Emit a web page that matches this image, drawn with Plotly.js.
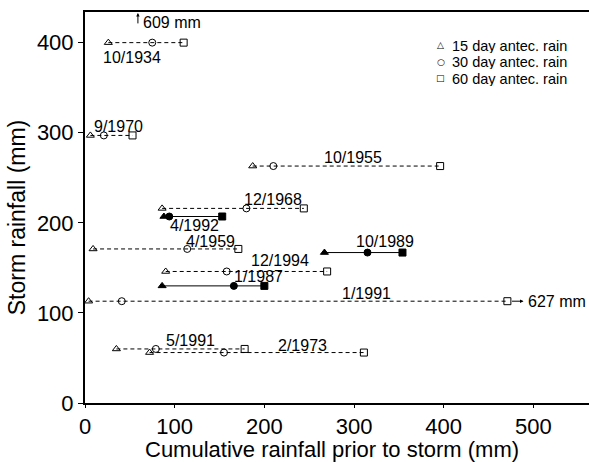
<!DOCTYPE html>
<html>
<head>
<meta charset="utf-8">
<script src="https://cdn.plot.ly/plotly-3.0.1.min.js"></script>
<style>html,body{margin:0;padding:0;background:#fff;}#chart{width:589px;height:462px;}</style>
</head>
<body>
<div id="chart"></div>
<script>
// ---- data ----
const events   = ['10/1934','9/1970','10/1955','12/1968','4/1992','4/1959','10/1989','12/1994','1/1987','1/1991','5/1991','2/1973'];
const rain15   = [26, 6, 187, 86, 88, 9, 267, 90, 86, 4, 35, 72];
const rain30   = [75, 21, 210, 180, 94, 114, 315, 158, 166, 41, 79, 155];
const rain60   = [110, 53, 396, 244, 153, 171, 354, 270, 200, 471, 178, 311];
const storm    = [400, 297, 263, 216, 207, 171, 167, 146, 130, 113, 60, 56];
const solidEvents = ['4/1992','10/1989','1/1987'];
const seriesNames = ['15 day antec. rain','30 day antec. rain','60 day antec. rain'];
const legendGlyphs = ['\u25B3','\u25CB','\u25A1'];
const offChartNotes = ['609 mm','627 mm'];
const xTitle = 'Cumulative rainfall prior to storm (mm)';
const yTitle = 'Storm rainfall (mm)';

// ---- label placement (data coords) ----
const labelPos = {
  '10/1934':[52,383], '9/1970':[37,307], '10/1955':[299,273], '12/1968':[210,226],
  '4/1992':[122,197], '4/1959':[140,179], '10/1989':[334,179], '12/1994':[217,158],
  '1/1987':[194,140], '1/1991':[314,121], '5/1991':[118,69], '2/1973':[242,64]
};

const FONT = 'Liberation Sans, Arial, Helvetica, sans-serif';
const openSym = ['triangle-up-open','circle-open','square-open'];
const solidSym = ['triangle-up','circle','square'];

const traces = events.map((ev, i) => {
  const solid = solidEvents.includes(ev);
  return {
    type: 'scatter', mode: 'lines+markers', showlegend: false, name: ev,
    x: [rain15[i], rain30[i], rain60[i]],
    y: [storm[i], storm[i], storm[i]],
    line: {color: '#000', width: 1, dash: solid ? 'solid' : '4px,3px'},
    marker: {symbol: solid ? solidSym : openSym, size: 7, color: '#000',
             line: {color: '#000', width: 1}},
    hoverinfo: 'skip'
  };
});

const annotations = events.map(ev => ({
  x: labelPos[ev][0], y: labelPos[ev][1], xref:'x', yref:'y', text: ev,
  showarrow:false, font:{family:FONT, size:16, color:'#000'}, xanchor:'center', yanchor:'middle'
}));
// 609 mm (up arrow)
annotations.push({x:59, y:433, xref:'x', yref:'y', ax:0, ay:12, text:'',
  showarrow:true, arrowhead:2, arrowsize:0.7, arrowwidth:1, arrowcolor:'#000'});
annotations.push({x:62, y:422, xref:'x', yref:'y', text: offChartNotes[0], showarrow:false, xanchor:'left', yanchor:'middle',
  font:{family:FONT, size:16, color:'#000'}});
// 627 mm (right arrow)
annotations.push({x:489, y:113, xref:'x', yref:'y', ax:-13, ay:0, text:'',
  showarrow:true, arrowhead:2, arrowsize:0.7, arrowwidth:1, arrowcolor:'#000'});
annotations.push({x:492, y:113, xref:'x', yref:'y', text: offChartNotes[1], showarrow:false, xanchor:'left', yanchor:'middle',
  font:{family:FONT, size:16, color:'#000'}});
// legend (drawn as text)
const legY = [0.915, 0.873, 0.831];
seriesNames.forEach((nm, k) => {
  annotations.push({x:0.706, y:legY[k], xref:'paper', yref:'paper', text: legendGlyphs[k], showarrow:false,
    xanchor:'center', yanchor:'middle', font:{family:'DejaVu Sans', size:9, color:'#000'}});
  annotations.push({x:0.726, y:legY[k], xref:'paper', yref:'paper', text: nm, showarrow:false, height:15, borderpad:0,
    xanchor:'left', yanchor:'middle', font:{family:FONT, size:14.5, color:'#000'}});
});
// axis titles
annotations.push({x:-0.135, y:0.475, xref:'paper', yref:'paper', text: yTitle, textangle:-90, showarrow:false,
  xanchor:'center', yanchor:'middle', font:{family:FONT, size:23, color:'#000'}});
annotations.push({x:0.49, y:-0.118, xref:'paper', yref:'paper', text: xTitle, showarrow:false,
  xanchor:'center', yanchor:'middle', borderpad:0, font:{family:FONT, size:22, color:'#000'}});

const layout = {
  width:589, height:462,
  margin:{l:85, r:0, t:12, b:59},
  paper_bgcolor:'#fff', plot_bgcolor:'#fff',
  font:{family:FONT, color:'#000'},
  showlegend:false,
  xaxis:{range:[0,562], tickvals:[0,100,200,300,400,500], showgrid:false, zeroline:false,
         showline:true, linecolor:'#000', linewidth:2, mirror:true,
         ticks:'outside', ticklen:3, tickcolor:'#000', tickwidth:1,
         tickfont:{family:FONT, size:22, color:'#000'}},
  yaxis:{range:[0,434], tickvals:[0,100,200,300,400], showgrid:false, zeroline:false,
         showline:true, linecolor:'#000', linewidth:2,
         ticks:'outside', ticklen:5, tickcolor:'#000', tickwidth:1,
         tickfont:{family:FONT, size:22, color:'#000'}},
  annotations: annotations
};

Plotly.newPlot('chart', traces, layout, {displayModeBar:false, staticPlot:true});
</script>
</body>
</html>
